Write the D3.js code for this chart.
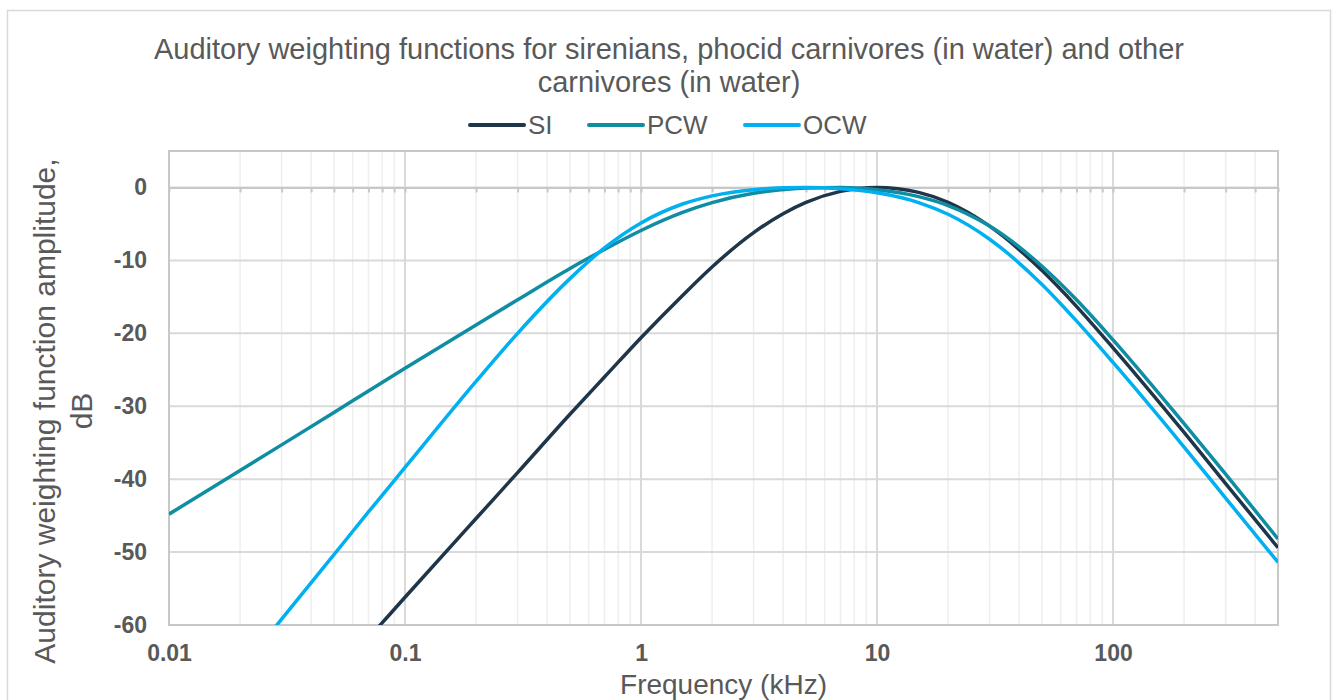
<!DOCTYPE html>
<html>
<head>
<meta charset="utf-8">
<script src="https://cdn.jsdelivr.net/npm/d3@7"></script>
<style>
    body { margin: 0; background: #fff; }
    text { font-family: "Liberation Sans", Arial, sans-serif; fill: #595959; }
</style>
</head>
<body>
<div id="chart"></div>
<script>
// frequencies (kHz) the curves were read at
let freqKHz = [0.01, 0.02, 0.03, 0.05, 0.07, 0.1, 0.2, 0.3, 0.5, 0.7, 1, 1.5, 2, 3, 4, 5, 7,
    10, 15, 20, 30, 50, 70, 100, 200, 300, 500];

// amplitude in dB, null = below the chart
let siValues = [null, null, null, -67.0, -61.8, -56.2, -45.4, -39.1, -31.1, -26.0, -20.6, -14.8, -10.9,
    -6.2, -3.6, -2.05, -0.54, 0.0, -0.67, -2.03, -5.3, -11.4, -16.3, -22.0, -33.6, -40.6, -49.4];
let pcwValues = [-44.8, -38.8, -35.3, -30.85, -27.9, -24.8, -18.85, -15.4, -11.1, -8.5, -5.9, -3.43, -2.08,
    -0.8, -0.29, -0.07, -0.02, -0.32, -1.26, -2.48, -5.3, -10.8, -15.4, -20.9, -32.4, -39.3, -48.2];
let ocwValues = [null, -66.2, -59.2, -50.35, -44.5, -38.4, -26.6, -20.0, -12.5, -8.3, -4.87, -2.27, -1.15,
    -0.3, -0.05, 0.0, -0.17, -0.73, -2.07, -3.68, -7.1, -13.3, -18.3, -24.0, -35.6, -42.6, -51.4];

let seriesNames = ['SI', 'PCW', 'OCW'];
let seriesColors = ['#1f364a', '#0f8da3', '#00b0f0'];

let xTickValues = [0.01, 0.1, 1, 10, 100];
let xTickLabels = ['0.01', '0.1', '1', '10', '100'];
let yTickValues = [0, -10, -20, -30, -40, -50, -60];
let yTickLabels = ['0', '-10', '-20', '-30', '-40', '-50', '-60'];

let titleLines = ['Auditory weighting functions for sirenians, phocid carnivores (in water) and other',
    'carnivores (in water)'];
let xTitle = 'Frequency (kHz)';
let yTitleLines = ['Auditory weighting function amplitude,', 'dB'];

let margin = {
        top: 151,
        right: 58,
        bottom: 75,
        left: 169
    },
    fullWidth = 1336,
    fullHeight = 700,
    width = fullWidth - margin.left - margin.right,
    height = fullHeight - margin.top - margin.bottom;

let svg = d3.select('#chart').append('svg')
    .attr('width', fullWidth)
    .attr('height', fullHeight);

// chart frame
svg.append('rect')
    .attr('x', 7.5).attr('y', 10.5)
    .attr('width', 1323).attr('height', 700)
    .attr('fill', 'none')
    .attr('stroke', '#d9d9d9')
    .attr('stroke-width', 1.5);

let x = d3.scaleLog()
    .domain([0.01, 500])
    .range([0, width]);

let y = d3.scaleLinear()
    .domain([-60, 5])
    .range([height, 0]);

let g = svg.append('g')
    .attr('transform', 'translate(' + margin.left + ',' + margin.top + ')');

// minor + major vertical grid positions
let minorVals = [];
[0.01, 0.1, 1, 10, 100].forEach(function(d) {
    for (let k = 2; k <= 9; k++) {
        if (d * k <= 500) minorVals.push(d * k);
    }
});

g.append('g')
    .attr('class', 'grid-minor')
    .selectAll('line')
    .data(minorVals)
    .enter().append('line')
    .attr('x1', function(d) { return x(d); })
    .attr('x2', function(d) { return x(d); })
    .attr('y1', 0)
    .attr('y2', height)
    .attr('stroke', '#eeeeee')
    .attr('stroke-width', 1.5);

g.append('g')
    .attr('class', 'grid-major-x')
    .selectAll('line')
    .data(xTickValues)
    .enter().append('line')
    .attr('x1', function(d) { return x(d); })
    .attr('x2', function(d) { return x(d); })
    .attr('y1', 0)
    .attr('y2', height)
    .attr('stroke', '#d9d9d9')
    .attr('stroke-width', 2);

g.append('g')
    .attr('class', 'grid-y')
    .selectAll('line')
    .data(yTickValues)
    .enter().append('line')
    .attr('x1', 0)
    .attr('x2', width)
    .attr('y1', function(d) { return y(d); })
    .attr('y2', function(d) { return y(d); })
    .attr('stroke', '#d9d9d9')
    .attr('stroke-width', 2);

// horizontal axis crosses at 0 dB, with small tick marks
let xAxisLine = g.append('g')
    .attr('transform', 'translate(0,' + y(0) + ')')
    .call(d3.axisBottom(x)
        .tickValues(minorVals.concat(xTickValues))
        .tickSize(5)
        .tickSizeOuter(0)
        .tickFormat(''));
xAxisLine.selectAll('path, line')
    .attr('stroke', '#c8c8c8')
    .attr('stroke-width', 2);

// plot border
g.append('rect')
    .attr('width', width)
    .attr('height', height)
    .attr('fill', 'none')
    .attr('stroke', '#c8c8c8')
    .attr('stroke-width', 2);

// tick labels
let xAxis = g.append('g')
    .attr('transform', 'translate(0,' + height + ')')
    .call(d3.axisBottom(x)
        .tickValues(xTickValues)
        .tickSize(0)
        .tickPadding(20)
        .tickFormat(function(d, i) { return xTickLabels[i]; }));
xAxis.select('.domain').remove();
xAxis.selectAll('text')
    .style('font-size', '23px')
    .style('font-weight', 'bold')
    .style('font-family', '"Liberation Sans", Arial, sans-serif')
    .attr('fill', '#595959');

let yAxis = g.append('g')
    .call(d3.axisLeft(y)
        .tickValues(yTickValues)
        .tickSize(0)
        .tickPadding(22)
        .tickFormat(function(d, i) { return yTickLabels[i]; }));
yAxis.select('.domain').remove();
yAxis.selectAll('text')
    .style('font-size', '23px')
    .style('font-weight', 'bold')
    .style('font-family', '"Liberation Sans", Arial, sans-serif')
    .attr('fill', '#595959');

// curves
g.append('clipPath')
    .attr('id', 'plot-clip')
    .append('rect')
    .attr('width', width)
    .attr('height', height);

let seriesData = [siValues, pcwValues, ocwValues].map(function(vals, i) {
    return {
        name: seriesNames[i],
        color: seriesColors[i],
        points: freqKHz.map(function(f, j) { return { f: f, v: vals[j] }; })
    };
});

let line = d3.line()
    .defined(function(d) { return d.v !== null; })
    .x(function(d) { return x(d.f); })
    .y(function(d) { return y(d.v); })
    .curve(d3.curveMonotoneX);

g.append('g')
    .attr('clip-path', 'url(#plot-clip)')
    .selectAll('.series')
    .data(seriesData)
    .enter().append('path')
    .attr('class', 'series')
    .attr('fill', 'none')
    .attr('stroke', function(d) { return d.color; })
    .attr('stroke-width', 3.5)
    .attr('stroke-linejoin', 'round')
    .attr('d', function(d) { return line(d.points); });

// title
svg.append('g')
    .selectAll('text')
    .data(titleLines)
    .enter().append('text')
    .attr('x', 669)
    .attr('y', function(d, i) { return 59 + i * 33; })
    .attr('text-anchor', 'middle')
    .style('font-size', '29px')
    .text(function(d) { return d; });

// legend
let legendX = [470, 589, 745];
let legend = svg.append('g')
    .selectAll('.legend')
    .data(seriesData)
    .enter().append('g')
    .attr('class', 'legend')
    .attr('transform', function(d, i) { return 'translate(' + legendX[i] + ',125)'; });
legend.append('line')
    .attr('x1', 0).attr('x2', 54)
    .attr('stroke', function(d) { return d.color; })
    .attr('stroke-width', 4)
    .attr('stroke-linecap', 'round');
legend.append('text')
    .attr('x', 58)
    .attr('y', 9)
    .style('font-size', '26px')
    .text(function(d) { return d.name; });

// axis titles
svg.append('text')
    .attr('x', margin.left + width / 2)
    .attr('y', 694)
    .attr('text-anchor', 'middle')
    .style('font-size', '28px')
    .text(xTitle);

svg.append('g')
    .attr('transform', 'translate(0,411) rotate(-90)')
    .selectAll('text')
    .data(yTitleLines)
    .enter().append('text')
    .attr('x', 0)
    .attr('y', function(d, i) { return 55 + i * 37; })
    .attr('text-anchor', 'middle')
    .style('font-size', '30px')
    .text(function(d) { return d; });
</script>
</body>
</html>
